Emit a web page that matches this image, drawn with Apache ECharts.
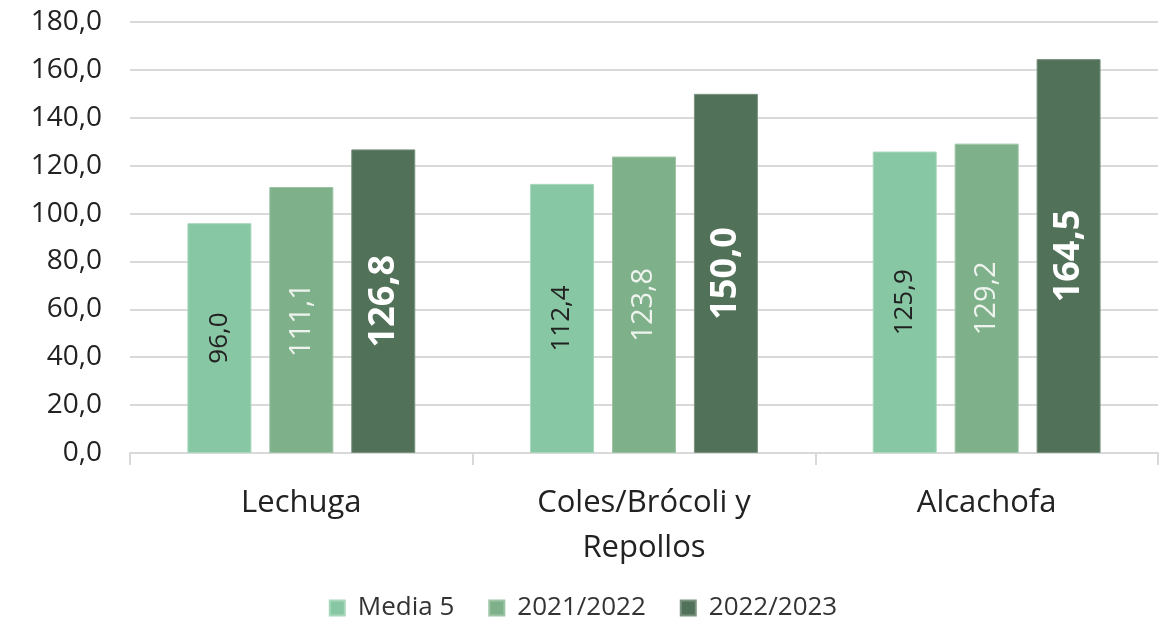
<!DOCTYPE html>
<html>
<head>
<meta charset="utf-8">
<script src="https://cdn.jsdelivr.net/npm/echarts@6/dist/echarts.min.js"></script>
<style>
html,body{margin:0;padding:0;background:#fff;}
#chart{width:1166px;height:626px;}
</style>
</head>
<body>
<div id="chart"></div>
<script>
// datos
var categorias = ['Lechuga', 'Coles/Brócoli y\nRepollos', 'Alcachofa'];
var media5 = [96.0, 112.4, 125.9];
var campana2122 = [111.1, 123.8, 129.2];
var campana2223 = [126.8, 150.0, 164.5];
var nombres = ['Media 5', '2021/2022', '2022/2023'];

var fuente = '"Open Sans", sans-serif';
function coma(v){ return v.toFixed(1).replace('.', ','); }

var myChart = echarts.init(document.getElementById('chart'));
myChart.setOption({
    animation: false,
    grid: { left: 130, right: 8, top: 22, bottom: 173 },
    legend: {
        bottom: 0,
        itemWidth: 15, itemHeight: 15, itemGap: 34,
        icon: 'rect',
        textStyle: { fontFamily: fuente, fontSize: 26, color: '#333', padding: [0, 0, 0, 8] },
        data: nombres
    },
    xAxis: {
        type: 'category',
        data: categorias,
        axisLine: { lineStyle: { color: '#d9d9d9', width: 2 } },
        axisTick: { show: true, length: 12, lineStyle: { color: '#d9d9d9', width: 2 } },
        axisLabel: { fontFamily: fuente, fontSize: 31, color: '#222', margin: 28, lineHeight: 45 }
    },
    yAxis: {
        type: 'value',
        min: 0, max: 180, interval: 20,
        axisLine: { show: false },
        axisTick: { show: false },
        splitLine: { lineStyle: { color: '#d9d9d9', width: 2 } },
        axisLabel: {
            fontFamily: fuente, fontSize: 28, color: '#222', margin: 28,
            formatter: function(v){ return coma(v); }
        }
    },
    series: [
        {
            name: nombres[0], type: 'bar', data: media5,
            barWidth: 64, barGap: '28%',
            itemStyle: { color: '#88c7a3', borderColor: '#a8d8bc', borderWidth: 1 },
            label: { show: true, position: 'inside', rotate: 90, fontFamily: fuente, fontSize: 26, color: '#222',
                formatter: function(p){ return coma(p.value); } }
        },
        {
            name: nombres[1], type: 'bar', data: campana2122,
            barWidth: 64, barGap: '28%',
            itemStyle: { color: '#7eb08a', borderColor: '#9cc4a5', borderWidth: 1 },
            label: { show: true, position: 'inside', rotate: 90, fontFamily: fuente, fontSize: 29, color: '#eef3ee',
                formatter: function(p){ return coma(p.value); } }
        },
        {
            name: nombres[2], type: 'bar', data: campana2223,
            barWidth: 64, barGap: '28%',
            itemStyle: { color: '#527159', borderColor: '#7a9380', borderWidth: 1 },
            label: { show: true, position: 'inside', rotate: 90, fontFamily: fuente, fontSize: 36, fontWeight: 'bold', color: '#ffffff',
                formatter: function(p){ return coma(p.value); } }
        }
    ]
});
</script>
</body>
</html>
